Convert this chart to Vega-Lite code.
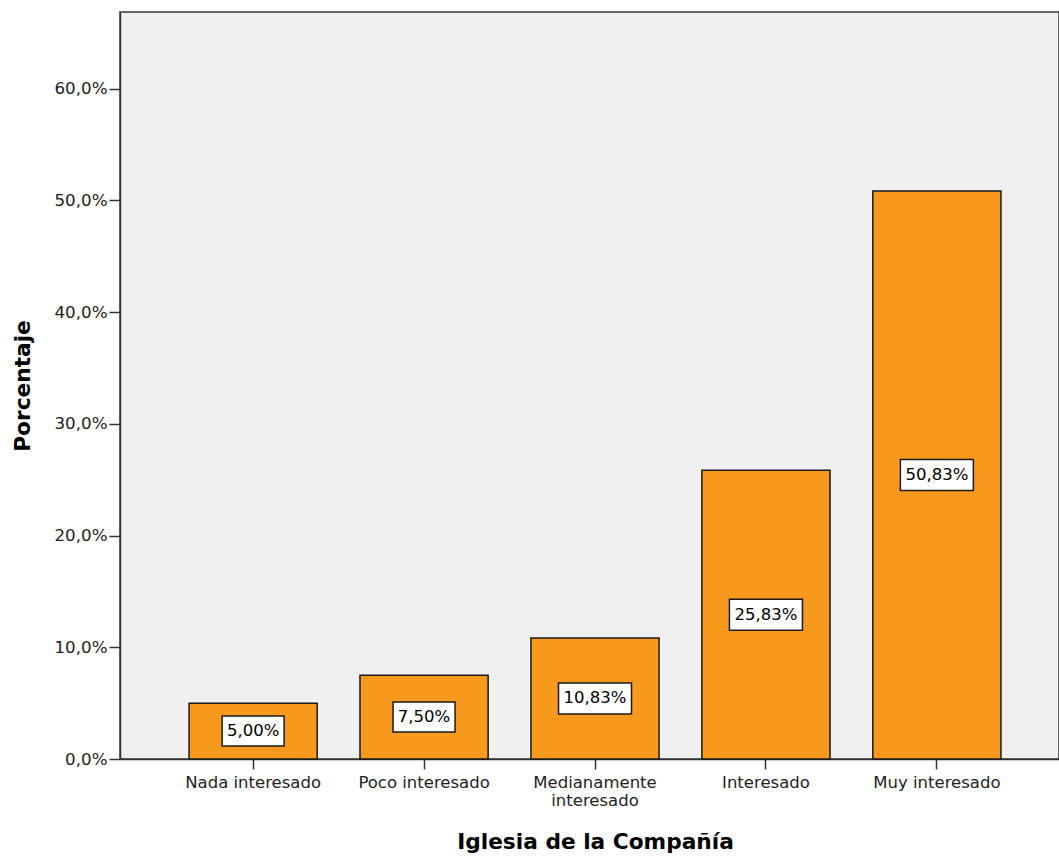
{
  "$schema": "https://vega.github.io/schema/vega-lite/v6.json",
  "width": 939,
  "height": 747,
  "autosize": "none",
  "padding": {"left": 120, "top": 12, "right": 0, "bottom": 97},
  "background": "white",
  "config": {
    "view": {"fill": "#F0F0F0", "stroke": "#3A3A3A", "strokeWidth": 1.5},
    "font": "DejaVu Sans"
  },
  "data": {
    "values": [
      {"categoria": "Nada interesado", "porcentaje": 5.00},
      {"categoria": "Poco interesado", "porcentaje": 7.50},
      {"categoria": "Medianamente interesado", "porcentaje": 10.83},
      {"categoria": "Interesado", "porcentaje": 25.83},
      {"categoria": "Muy interesado", "porcentaje": 50.83}
    ]
  },
  "transform": [
    {"calculate": "replace(format(datum.porcentaje, '.2f'), '.', ',') + '%'", "as": "etiqueta"},
    {"calculate": "datum.porcentaje / 2", "as": "medio"}
  ],
  "encoding": {
    "x": {
      "field": "categoria",
      "type": "nominal",
      "sort": null,
      "scale": {"range": [0, 950], "paddingInner": 0.2504, "paddingOuter": 0.404},
      "axis": {
        "labelAngle": 0,
        "labelExpr": "datum.label == 'Medianamente interesado' ? ['Medianamente', 'interesado'] : datum.label",
        "labelFontSize": 16.5,
        "labelColor": "#222222",
        "labelPadding": 5,
        "labelLineHeight": 18,
        "tickSize": 10,
        "tickColor": "#333333",
        "tickWidth": 1.5,
        "domainColor": "#333333",
        "domainWidth": 1.5,
        "title": "Iglesia de la Compañía",
        "titleFontSize": 21.7,
        "titleFontWeight": "bold",
        "titleColor": "#000000",
        "titlePadding": 23
      }
    }
  },
  "layer": [
    {
      "mark": {"type": "bar", "fill": "#F7991D", "stroke": "#1A1A1A", "strokeWidth": 1.5},
      "encoding": {
        "y": {
          "field": "porcentaje",
          "type": "quantitative",
          "scale": {"domain": [0, 66.85], "nice": false, "zero": true},
          "axis": {
            "values": [0, 10, 20, 30, 40, 50, 60],
            "labelExpr": "replace(format(datum.value, '.1f'), '.', ',') + '%'",
            "grid": false,
            "labelFontSize": 16.7,
            "labelColor": "#222222",
            "labelPadding": 2,
            "tickSize": 11,
            "tickColor": "#333333",
            "tickWidth": 1.5,
            "domainColor": "#333333",
            "domainWidth": 1.5,
            "title": "Porcentaje",
            "titleFontSize": 21.7,
            "titleFontWeight": "bold",
            "titleColor": "#000000",
            "titlePadding": 19
          }
        }
      }
    },
    {
      "mark": {"type": "point", "filled": true, "fill": "white", "stroke": "#1A1A1A", "strokeWidth": 1.5, "opacity": 1, "size": 900},
      "encoding": {
        "y": {"field": "medio", "type": "quantitative"},
        "shape": {
          "condition": {"test": "length(datum.etiqueta) > 5", "value": "M-2.433,-1.033H2.433V1.033H-2.433Z"},
          "value": "M-2.067,-1H2.067V1H-2.067Z"
        }
      }
    },
    {
      "mark": {"type": "text", "fontSize": 16.5, "color": "#000000", "baseline": "middle", "align": "center"},
      "encoding": {
        "y": {"field": "medio", "type": "quantitative"},
        "text": {"field": "etiqueta"}
      }
    }
  ]
}
